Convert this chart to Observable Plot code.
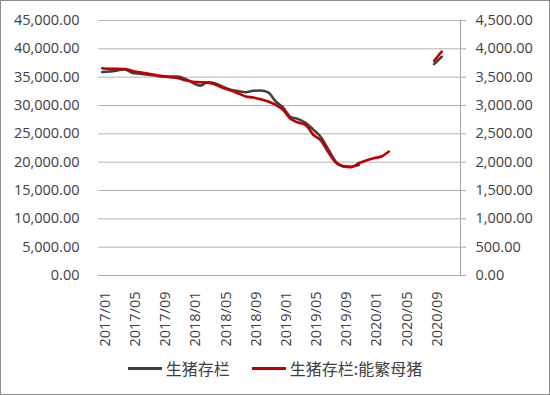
<!DOCTYPE html>
<html>
<head>
<meta charset="utf-8">
<script src="https://cdn.jsdelivr.net/npm/d3@7"></script>
<script src="https://cdn.jsdelivr.net/npm/@observablehq/plot@0.6"></script>
<style>
  html, body { margin: 0; padding: 0; background: #fff; }
  #wrap { position: relative; width: 550px; height: 395px; overflow: hidden; background: #fff; }
  #border { position: absolute; left: 0; top: 0; width: 550px; height: 395px; box-sizing: border-box; border: 1px solid #8c8c8c; pointer-events: none; }
  #legend { position: absolute; left: 0; top: 355px; width: 550px; height: 26px; display: flex; justify-content: center; align-items: center;
            font-family: "Noto Sans CJK SC", sans-serif; font-size: 16px; color: #404040; }
  .item { display: flex; align-items: center; margin: 0 11px; }
  .swatch { width: 34px; height: 3px; margin-right: 4px; }
</style>
</head>
<body>
<div id="wrap">
  <div id="chart"></div>
  <div id="legend"></div>
  <div id="border"></div>
</div>
<script>
const months = [
  "2017/01","2017/02","2017/03","2017/04","2017/05","2017/06","2017/07","2017/08","2017/09","2017/10","2017/11","2017/12",
  "2018/01","2018/02","2018/03","2018/04","2018/05","2018/06","2018/07","2018/08","2018/09","2018/10","2018/11","2018/12",
  "2019/01","2019/02","2019/03","2019/04","2019/05","2019/06","2019/07","2019/08","2019/09","2019/10","2019/11","2019/12",
  "2020/01","2020/02","2020/03","2020/04","2020/05","2020/06","2020/07","2020/08","2020/09","2020/10","2020/11","2020/12"
];
const tickMonths = ["2017/01","2017/05","2017/09","2018/01","2018/05","2018/09","2019/01","2019/05","2019/09","2020/01","2020/05","2020/09"];

// 生猪存栏 (left axis)
const hogs = [
  35900, 36000, 36200, 36350, 35750, 35600, 35450, 35300, 35120, 35120, 35120, 34700,
  34000, 33500, 34100, 33900, 33300, 32800, 32550, 32350, 32600, 32650, 32300, 30700,
  29600, 27950, 27600, 26900, 25700, 24400, 22200, 20000, 19250, 19200, 19500, null,
  null, null, null, null, null, null, null, null, 37300, 38600, null, null
];
// 生猪存栏:能繁母猪 (right axis)
const sows = [
  3658, 3647, 3647, 3645, 3610, 3585, 3562, 3540, 3518, 3500, 3485, 3445,
  3420, 3411, 3400, 3370, 3310, 3270, 3215, 3160, 3140, 3110, 3070, 3010,
  2920, 2760, 2700, 2650, 2480, 2380, 2170, 1990, 1930, 1912, 1980, 2030,
  2070, 2100, 2188, null, null, null, null, null, 3790, 3950, null, null
];

const leftTicks = [0, 5000, 10000, 15000, 20000, 25000, 30000, 35000, 40000, 45000];
const rightTicks = [0, 500, 1000, 1500, 2000, 2500, 3000, 3500, 4000, 4500];

const seriesNames = ["生猪存栏", "生猪存栏:能繁母猪"];
const seriesColors = ["#404040", "#c00000"];

const ratio = 10; // right axis scale factor relative to left
const fmt = d3.format(",.2f");

const hogData = months.map((m, i) => ({m, v: hogs[i]}));
const sowData = months.map((m, i) => ({m, v: sows[i] == null ? null : sows[i] * ratio}));

const chart = Plot.plot({
  width: 550,
  height: 350,
  marginLeft: 98,
  marginRight: 90,
  marginTop: 20,
  marginBottom: 75,
  style: {fontFamily: "'Open Sans', sans-serif", fontSize: "14.5px", color: "#404040", background: "transparent", overflow: "visible"},
  x: {type: "point", domain: months, padding: 0.5, round: false},
  y: {domain: [0, 45000]},
  marks: [
    Plot.gridY(leftTicks, {stroke: "#b4b4b4", strokeOpacity: 1}),
    Plot.ruleY([0], {stroke: "#a6a6a6"}),
    Plot.frame({anchor: "right", stroke: "#a6a6a6"}),
    Plot.axisY(leftTicks, {anchor: "left", tickSize: 0, tickPadding: 19, tickFormat: fmt, label: null, fill: "#404040"}),
    Plot.axisY(rightTicks.map(d => d * ratio), {anchor: "right", tickSize: 5, tickPadding: 10, stroke: "#a6a6a6",
      tickFormat: d => fmt(d / ratio), label: null, fill: "#404040"}),
    Plot.axisX(tickMonths, {anchor: "bottom", tickSize: 0, tickPadding: 16, tickRotate: -90, dx: 3, label: null, fill: "#404040", fontSize: 14.5}),
    Plot.line(hogData, {x: "m", y: "v", stroke: seriesColors[0], strokeWidth: 2.6, curve: "monotone-x"}),
    Plot.line(sowData, {x: "m", y: "v", stroke: seriesColors[1], strokeWidth: 2.6, curve: "monotone-x"})
  ]
});
document.getElementById("chart").appendChild(chart);

const legend = document.getElementById("legend");
seriesNames.forEach((name, i) => {
  const item = document.createElement("div");
  item.className = "item";
  const sw = document.createElement("span");
  sw.className = "swatch";
  sw.style.background = seriesColors[i];
  const tx = document.createElement("span");
  tx.textContent = name;
  item.appendChild(sw);
  item.appendChild(tx);
  legend.appendChild(item);
});
</script>
</body>
</html>
